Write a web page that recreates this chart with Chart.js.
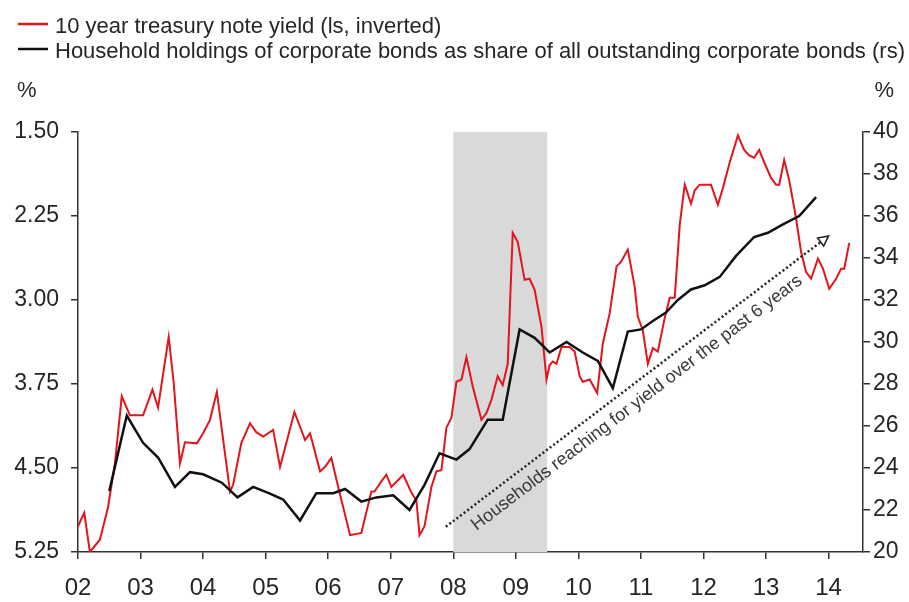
<!DOCTYPE html>
<html>
<head>
<meta charset="utf-8">
<title>Households reaching for yield</title>
<script src="https://cdn.jsdelivr.net/npm/chart.js@4.4.1/dist/chart.umd.min.js"></script>
<style>
  html, body { margin: 0; padding: 0; background: #fff; }
  #wrap { width: 909px; height: 602px; }
</style>
</head>
<body>
<div id="wrap"><canvas id="yieldChart" width="909" height="602"></canvas></div>
<script>
// 10 year treasury note yield, % (left axis, inverted) - dates as decimal years
const treasuryDates = [
  2002.00, 2002.10, 2002.19, 2002.35, 2002.48, 2002.59, 2002.70, 2002.83, 2003.04, 2003.19,
  2003.28, 2003.45, 2003.53, 2003.63, 2003.71, 2003.90, 2004.00, 2004.11, 2004.22, 2004.43,
  2004.48, 2004.61, 2004.75, 2004.85, 2004.96, 2005.12, 2005.23, 2005.46, 2005.63, 2005.71,
  2005.87, 2005.95, 2006.05, 2006.16, 2006.35, 2006.53, 2006.69, 2006.74, 2006.85, 2006.93,
  2007.01, 2007.20, 2007.33, 2007.41, 2007.46, 2007.54, 2007.65, 2007.73, 2007.81, 2007.89,
  2007.97, 2008.05, 2008.13, 2008.21, 2008.31, 2008.45, 2008.53, 2008.61, 2008.71, 2008.79,
  2008.87, 2008.95, 2009.03, 2009.14, 2009.22, 2009.30, 2009.41, 2009.49, 2009.54, 2009.59,
  2009.65, 2009.73, 2009.86, 2009.94, 2010.02, 2010.07, 2010.18, 2010.30, 2010.39, 2010.50,
  2010.61, 2010.68, 2010.79, 2010.90, 2010.95, 2011.03, 2011.11, 2011.19, 2011.27, 2011.38,
  2011.46, 2011.54, 2011.62, 2011.70, 2011.80, 2011.86, 2011.94, 2012.12, 2012.23, 2012.31,
  2012.42, 2012.55, 2012.65, 2012.73, 2012.81, 2012.89, 2012.97, 2013.08, 2013.16, 2013.21,
  2013.29, 2013.37, 2013.48, 2013.56, 2013.64, 2013.72, 2013.83, 2013.91, 2014.01, 2014.12,
  2014.20, 2014.25, 2014.33
];
const treasuryYield = [
  5.02, 4.90, 5.25, 5.14, 4.85, 4.46, 3.86, 4.03, 4.03, 3.80,
  3.96, 3.33, 3.74, 4.46, 4.27, 4.28, 4.19, 4.07, 3.82, 4.71,
  4.65, 4.28, 4.10, 4.18, 4.22, 4.16, 4.49, 4.00, 4.25, 4.19,
  4.53, 4.49, 4.41, 4.67, 5.10, 5.08, 4.71, 4.71, 4.62, 4.56,
  4.67, 4.56, 4.72, 4.79, 5.10, 5.02, 4.67, 4.53, 4.52, 4.14,
  4.05, 3.73, 3.71, 3.51, 3.77, 4.07, 4.01, 3.89, 3.68, 3.76,
  3.57, 2.40, 2.48, 2.82, 2.81, 2.91, 3.24, 3.71, 3.58, 3.55,
  3.57, 3.42, 3.42, 3.46, 3.68, 3.73, 3.71, 3.83, 3.39, 3.12,
  2.70, 2.66, 2.55, 2.88, 3.15, 3.27, 3.57, 3.43, 3.46, 3.16,
  2.98, 2.98, 2.33, 1.97, 2.14, 2.02, 1.97, 1.97, 2.15, 2.00,
  1.77, 1.53, 1.66, 1.71, 1.73, 1.66, 1.77, 1.91, 1.97, 1.97,
  1.75, 1.93, 2.27, 2.57, 2.75, 2.81, 2.63, 2.72, 2.90, 2.81,
  2.72, 2.72, 2.49
];

// household holdings as share of all outstanding corporate bonds, % (right axis), quarterly
const householdDates = [
  2002.50, 2002.78, 2003.04, 2003.28, 2003.55, 2003.79, 2004.00, 2004.30, 2004.55, 2004.80,
  2005.05, 2005.28, 2005.55, 2005.81, 2006.08, 2006.27, 2006.53, 2006.77, 2007.04, 2007.30,
  2007.54, 2007.78, 2008.05, 2008.26, 2008.55, 2008.79, 2009.06, 2009.30, 2009.54, 2009.81,
  2010.07, 2010.31, 2010.55, 2010.79, 2011.00, 2011.19, 2011.40, 2011.59, 2011.80, 2012.02,
  2012.26, 2012.52, 2012.81, 2013.03, 2013.27, 2013.53, 2013.80
];
const householdShare = [
  22.9, 26.5, 25.2, 24.5, 23.1, 23.8, 23.7, 23.3, 22.6, 23.1,
  22.8, 22.5, 21.5, 22.8, 22.8, 23.0, 22.4, 22.6, 22.7, 22.0,
  23.2, 24.7, 24.4, 24.9, 26.3, 26.3, 30.6, 30.2, 29.5, 30.0,
  29.5, 29.1, 27.8, 30.5, 30.6, 31.0, 31.4, 32.0, 32.5, 32.7,
  33.1, 34.1, 35.0, 35.2, 35.6, 36.0, 36.9
];

const yearTicks = [2002, 2003, 2004, 2005, 2006, 2007, 2008, 2009, 2010, 2011, 2012, 2013, 2014];
const yearLabels = ['02', '03', '04', '05', '06', '07', '08', '09', '10', '11', '12', '13', '14'];
const yieldTicks = [1.50, 2.25, 3.00, 3.75, 4.50, 5.25];
const shareTicks = [20, 22, 24, 26, 28, 30, 32, 34, 36, 38, 40];

// shaded recession, and the trend arrow (year, share %)
const recession = [2008.0, 2009.5];
const trendFrom = [2007.88, 21.2];
const trendTo = [2014.0, 35.05];
const trendText = 'Households reaching for yield over the past 6 years';

const FONT = '"Liberation Sans", Arial, sans-serif';
const TEXT = '#262626';
const AXIS = '#333333';

const recessionPlugin = {
  id: 'recession',
  beforeDatasetsDraw(chart) {
    const { ctx, chartArea, scales: { x } } = chart;
    const x0 = x.getPixelForValue(recession[0]);
    const x1 = x.getPixelForValue(recession[1]);
    ctx.save();
    ctx.fillStyle = '#d9d9d9';
    ctx.fillRect(x0, chartArea.top, x1 - x0, chartArea.bottom - chartArea.top);
    ctx.restore();
  }
};

const trendPlugin = {
  id: 'trendArrow',
  afterDatasetsDraw(chart) {
    const { ctx, scales: { x, y2 } } = chart;
    const x0 = x.getPixelForValue(trendFrom[0]), y0 = y2.getPixelForValue(trendFrom[1]);
    const x1 = x.getPixelForValue(trendTo[0]), y1 = y2.getPixelForValue(trendTo[1]);
    const ang = Math.atan2(y1 - y0, x1 - x0);
    const len = Math.hypot(x1 - x0, y1 - y0);

    ctx.save();
    ctx.translate(x0, y0);
    ctx.rotate(ang);
    ctx.strokeStyle = '#222';
    ctx.lineWidth = 2.5;
    ctx.lineCap = 'butt';
    ctx.setLineDash([2, 2.5]);
    ctx.beginPath();
    ctx.moveTo(0, 0);
    ctx.lineTo(len - 9, 0);
    ctx.stroke();

    // open arrow head
    ctx.setLineDash([]);
    ctx.lineWidth = 1.5;
    ctx.beginPath();
    ctx.moveTo(len, 0);
    ctx.lineTo(len - 10, -5);
    ctx.lineTo(len - 10, 5);
    ctx.closePath();
    ctx.stroke();

    ctx.fillStyle = '#3a3a3a';
    ctx.font = '18px ' + FONT;
    ctx.textAlign = 'left';
    ctx.textBaseline = 'alphabetic';
    ctx.fillText(trendText, 22, 22);
    ctx.restore();
  }
};

const headerPlugin = {
  id: 'header',
  afterDraw(chart) {
    const { ctx, chartArea } = chart;
    ctx.save();
    ctx.font = '22px ' + FONT;
    ctx.fillStyle = TEXT;
    ctx.textBaseline = 'alphabetic';
    chart.data.datasets.forEach((ds, i) => {
      const base = 33 + i * 25;
      ctx.strokeStyle = ds.borderColor;
      ctx.lineWidth = 2.5;
      ctx.beginPath();
      ctx.moveTo(18, base - 9);
      ctx.lineTo(48, base - 9);
      ctx.stroke();
      ctx.textAlign = 'left';
      ctx.fillText(ds.label, 55, base);
    });
    // unit labels above both axes
    ctx.textAlign = 'left';
    ctx.fillText('%', 17, 97);
    ctx.textAlign = 'right';
    ctx.fillText('%', chartArea.right + 31, 97);
    ctx.restore();
  }
};

const toPoints = (xs, ys) => xs.map((d, i) => ({ x: d, y: ys[i] }));

const axisGrid = { display: true, drawOnChartArea: false, drawTicks: true, tickLength: 7, color: AXIS, lineWidth: 1.5 };
const axisBorder = { display: true, color: AXIS, width: 1.5 };

new Chart(document.getElementById('yieldChart'), {
  type: 'line',
  data: {
    datasets: [
      {
        label: '10 year treasury note yield (ls, inverted)',
        data: toPoints(treasuryDates, treasuryYield),
        yAxisID: 'y',
        borderColor: '#e3141c',
        borderWidth: 2,
        pointRadius: 0,
        tension: 0,
        order: 2
      },
      {
        label: 'Household holdings of corporate bonds as share of all outstanding corporate bonds (rs)',
        data: toPoints(householdDates, householdShare),
        yAxisID: 'y2',
        borderColor: '#111111',
        borderWidth: 2.5,
        pointRadius: 0,
        tension: 0,
        order: 1
      }
    ]
  },
  options: {
    responsive: false,
    animation: false,
    devicePixelRatio: 1,
    layout: { padding: { top: 132, left: 0, right: 0, bottom: 0 } },
    plugins: {
      legend: { display: false },
      tooltip: { enabled: false }
    },
    scales: {
      x: {
        type: 'linear',
        min: 2002,
        max: 2014.55,
        grid: axisGrid,
        border: axisBorder,
        afterBuildTicks: s => { s.ticks = yearTicks.map(v => ({ value: v })); },
        afterFit: s => { s.height = 50; },
        ticks: {
          padding: 15,
          color: TEXT,
          font: { family: FONT, size: 24 },
          maxRotation: 0,
          callback: v => yearLabels[yearTicks.indexOf(v)]
        }
      },
      y: {
        position: 'left',
        reverse: true,
        min: 1.5,
        max: 5.25,
        grid: axisGrid,
        border: axisBorder,
        afterBuildTicks: s => { s.ticks = yieldTicks.map(v => ({ value: v })); },
        afterFit: s => { s.width = 78; },
        ticks: {
          padding: 12,
          color: TEXT,
          font: { family: FONT, size: 23 },
          callback: v => Number(v).toFixed(2)
        }
      },
      y2: {
        position: 'right',
        min: 20,
        max: 40,
        grid: axisGrid,
        border: axisBorder,
        afterBuildTicks: s => { s.ticks = shareTicks.map(v => ({ value: v })); },
        afterFit: s => { s.width = 46; },
        ticks: {
          padding: 3,
          color: TEXT,
          font: { family: FONT, size: 23 }
        }
      }
    }
  },
  plugins: [recessionPlugin, trendPlugin, headerPlugin]
});
</script>
</body>
</html>
